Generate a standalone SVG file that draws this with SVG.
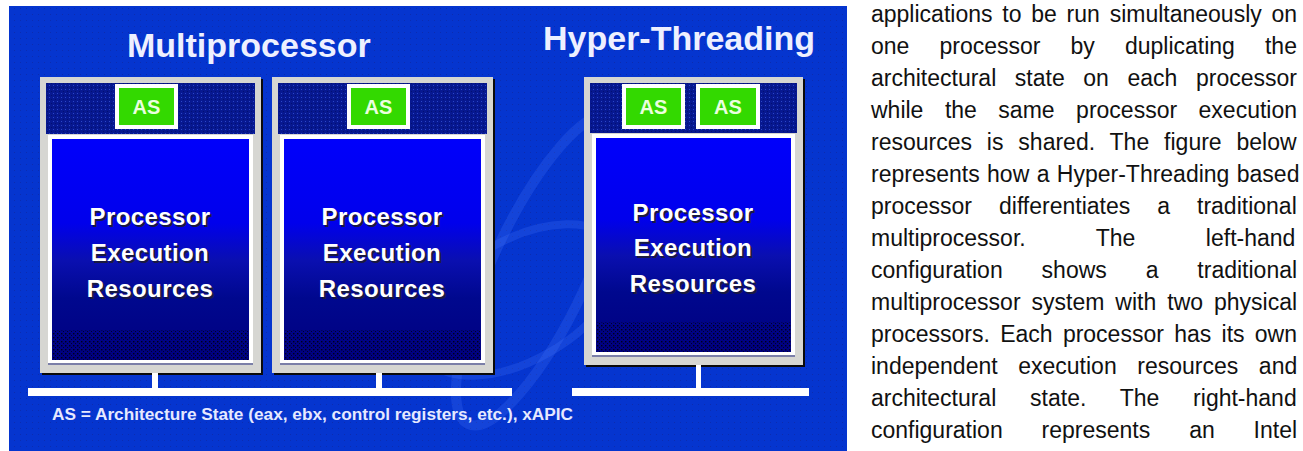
<svg xmlns="http://www.w3.org/2000/svg" width="1303" height="451" viewBox="0 0 1303 451">
<defs>
<style>
.title{font-family:"Liberation Sans",Arial,sans-serif;font-weight:bold;font-size:34px;fill:#eef0ff}
.as{font-family:"Liberation Sans",Arial,sans-serif;font-weight:bold;font-size:20px;fill:#eaffdf;text-anchor:middle}
.per{font-family:"Liberation Sans",Arial,sans-serif;font-weight:bold;font-size:24px;fill:#ffffff;text-anchor:middle;letter-spacing:0.4px}
.pers{font-family:"Liberation Sans",Arial,sans-serif;font-weight:bold;font-size:24px;fill:#1a1a40;text-anchor:middle;letter-spacing:0.4px}
.foot{font-family:"Liberation Sans",Arial,sans-serif;font-weight:bold;font-size:16px;fill:#e6e9ff}
.body{font-family:"Liberation Sans",Arial,sans-serif;font-size:23px;fill:#111111}
.frame{fill:#d6d6d2}
.shadow{fill:#0a0a0a}
.wh{fill:#ffffff}
.bus{fill:#ffffff}
.asw{fill:#ffffff}
.asg{fill:#33d900}
</style>
<pattern id="bgdots" width="6" height="6" patternUnits="userSpaceOnUse">
<rect width="6" height="6" fill="#0535cf"/>
<rect x="2" y="2" width="1" height="1" fill="#0b2cb0"/>
</pattern>
<pattern id="navydots" width="4" height="4" patternUnits="userSpaceOnUse">
<rect width="4" height="4" fill="#071890"/>
<rect x="1" y="1" width="1" height="1" fill="#2a46c8"/>
<rect x="3" y="3" width="1" height="1" fill="#021070"/>
</pattern>
<pattern id="blackdots" width="4" height="4" patternUnits="userSpaceOnUse">
<rect x="1" y="1" width="1.4" height="1.4" fill="#000000"/>
<rect x="3" y="3" width="1" height="1" fill="#000010"/>
</pattern>
<linearGradient id="exec" x1="0" y1="0" x2="0" y2="1">
<stop offset="0" stop-color="#0000fb"/>
<stop offset="0.38" stop-color="#0000ec"/>
<stop offset="0.55" stop-color="#0a0fb0"/>
<stop offset="0.72" stop-color="#00088e"/>
<stop offset="1" stop-color="#000080"/>
</linearGradient>
</defs>

<rect x="0" y="0" width="1303" height="451" fill="#ffffff"/>
<rect x="9" y="6" width="838" height="445" fill="url(#bgdots)"/>

<g id="swirl" fill="none" stroke="#4f7dff" stroke-opacity="0.22">
<ellipse cx="540" cy="270" rx="48" ry="170" transform="rotate(25 540 270)" stroke-width="10"/>
<ellipse cx="520" cy="300" rx="110" ry="60" transform="rotate(-30 520 300)" stroke-width="8"/>
</g>

<text class="title" x="127" y="57">Multiprocessor</text>
<text class="title" x="543" y="50">Hyper-Threading</text>

<g id="proc1">
<rect class="shadow" x="42" y="79" width="221" height="296"/>
<rect class="frame" x="40" y="77" width="221" height="296"/>
<rect x="46" y="83" width="209" height="51" fill="url(#navydots)"/>
<rect class="wh" x="48" y="135" width="205" height="229"/>
<rect x="52" y="139" width="197" height="221" fill="url(#exec)"/>
<rect x="52" y="330" width="197" height="30" fill="url(#blackdots)" opacity="0.8"/>
<rect x="48" y="363" width="205" height="2" fill="#7b7fa8"/>
<rect class="asw" x="115" y="84" width="63" height="45"/>
<rect class="asg" x="119" y="88" width="55" height="37"/>
<text class="as" x="146.5" y="114">AS</text>
<text class="pers" x="152" y="227">Processor</text>
<text class="pers" x="152" y="263">Execution</text>
<text class="pers" x="152" y="299">Resources</text>
<text class="per" x="150" y="225">Processor</text>
<text class="per" x="150" y="261">Execution</text>
<text class="per" x="150" y="297">Resources</text>
</g>

<g id="proc2">
<rect class="shadow" x="274" y="79" width="221" height="296"/>
<rect class="frame" x="272" y="77" width="221" height="296"/>
<rect x="278" y="83" width="209" height="51" fill="url(#navydots)"/>
<rect class="wh" x="280" y="135" width="205" height="229"/>
<rect x="284" y="139" width="197" height="221" fill="url(#exec)"/>
<rect x="284" y="330" width="197" height="30" fill="url(#blackdots)" opacity="0.8"/>
<rect x="280" y="363" width="205" height="2" fill="#7b7fa8"/>
<rect class="asw" x="347" y="84" width="63" height="45"/>
<rect class="asg" x="351" y="88" width="55" height="37"/>
<text class="as" x="378.5" y="114">AS</text>
<text class="pers" x="384" y="227">Processor</text>
<text class="pers" x="384" y="263">Execution</text>
<text class="pers" x="384" y="299">Resources</text>
<text class="per" x="382" y="225">Processor</text>
<text class="per" x="382" y="261">Execution</text>
<text class="per" x="382" y="297">Resources</text>
</g>

<g id="proc3">
<rect class="shadow" x="586" y="79" width="219" height="288"/>
<rect class="frame" x="584" y="77" width="219" height="288"/>
<rect x="590" y="83" width="207" height="50" fill="url(#navydots)"/>
<rect class="wh" x="592" y="134" width="203" height="222"/>
<rect x="596" y="138" width="195" height="214" fill="url(#exec)"/>
<rect x="596" y="322" width="195" height="30" fill="url(#blackdots)" opacity="0.8"/>
<rect x="592" y="355" width="203" height="2" fill="#7b7fa8"/>
<rect class="asw" x="622" y="84" width="63" height="45"/>
<rect class="asg" x="626" y="88" width="55" height="37"/>
<text class="as" x="653.5" y="114">AS</text>
<rect class="asw" x="696" y="84" width="64" height="45"/>
<rect class="asg" x="700" y="88" width="56" height="37"/>
<text class="as" x="728" y="114">AS</text>
<text class="pers" x="695" y="223">Processor</text>
<text class="pers" x="695" y="258">Execution</text>
<text class="pers" x="695" y="294">Resources</text>
<text class="per" x="693" y="221">Processor</text>
<text class="per" x="693" y="256">Execution</text>
<text class="per" x="693" y="292">Resources</text>
</g>

<g id="connectors">
<rect class="bus" x="152" y="373" width="6" height="16"/>
<rect class="bus" x="376" y="373" width="6" height="16"/>
<rect class="bus" x="28" y="388" width="484" height="8"/>
<rect class="bus" x="696" y="365" width="5" height="24"/>
<rect class="bus" x="572" y="388" width="237" height="8"/>
</g>

<text class="foot" x="52" y="420" textLength="521" lengthAdjust="spacingAndGlyphs">AS = Architecture State (eax, ebx, control registers, etc.), xAPIC</text>

<g id="body">
<text class="body" x="871" y="22" word-spacing="3.4">applications to be run simultaneously on</text>
<text class="body" x="871" y="54" word-spacing="23.7">one processor by duplicating the</text>
<text class="body" x="871" y="86" word-spacing="12.2">architectural state on each processor</text>
<text class="body" x="871" y="118" word-spacing="15.1">while the same processor execution</text>
<text class="body" x="871" y="150" word-spacing="8.5">resources is shared. The figure below</text>
<text class="body" x="871" y="182" word-spacing="1.0">represents how a Hyper-Threading based</text>
<text class="body" x="871" y="214" word-spacing="20.6">processor differentiates a traditional</text>
<text class="body" x="871" y="246" word-spacing="64.1">multiprocessor. The left-hand</text>
<text class="body" x="871" y="278" word-spacing="32.5">configuration shows a traditional</text>
<text class="body" x="871" y="310" word-spacing="4.6">multiprocessor system with two physical</text>
<text class="body" x="871" y="342" word-spacing="3.9">processors. Each processor has its own</text>
<text class="body" x="871" y="374" word-spacing="14.2">independent execution resources and</text>
<text class="body" x="871" y="406" word-spacing="27.4">architectural state. The right-hand</text>
<text class="body" x="871" y="438" word-spacing="32.5">configuration represents an Intel</text>
</g>
</svg>
